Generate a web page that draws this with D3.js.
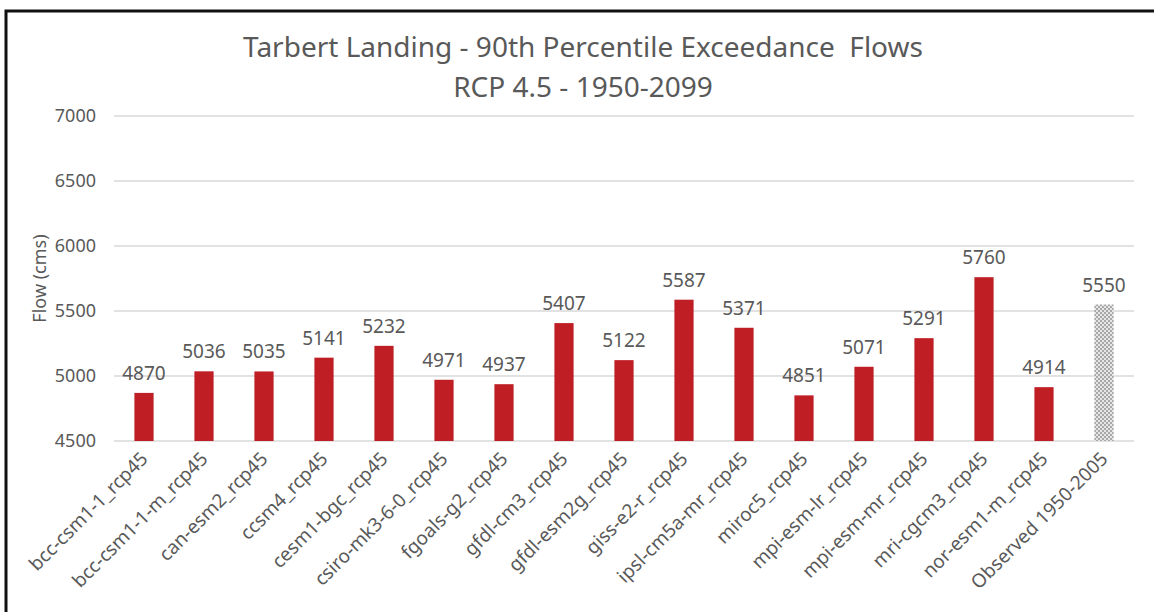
<!DOCTYPE html>
<html>
<head>
<meta charset="utf-8">
<script src="https://cdn.jsdelivr.net/npm/d3@7"></script>
<style>
  body { margin: 0; background: #fff; }
  #chart { width: 1154px; height: 612px; }
  text { font-family: "Noto Sans", "Open Sans", sans-serif; fill: #595959; }
</style>
</head>
<body>
<div id="chart"></div>
<script>
const models = ["bcc-csm1-1_rcp45", "bcc-csm1-1-m_rcp45", "can-esm2_rcp45", "ccsm4_rcp45",
  "cesm1-bgc_rcp45", "csiro-mk3-6-0_rcp45", "fgoals-g2_rcp45", "gfdl-cm3_rcp45",
  "gfdl-esm2g_rcp45", "giss-e2-r_rcp45", "ipsl-cm5a-mr_rcp45", "miroc5_rcp45",
  "mpi-esm-lr_rcp45", "mpi-esm-mr_rcp45", "mri-cgcm3_rcp45", "nor-esm1-m_rcp45",
  "Observed 1950-2005"];
const flows = [4870, 5036, 5035, 5141, 5232, 4971, 4937, 5407, 5122, 5587, 5371,
  4851, 5071, 5291, 5760, 4914, 5550];
const yTicks = [4500, 5000, 5500, 6000, 6500, 7000];
const titleLines = ["Tarbert Landing - 90th Percentile Exceedance  Flows", "RCP 4.5 - 1950-2099"];
const yLabel = "Flow (cms)";

const W = 1154, H = 612;
const margin = {top: 116, left: 114, right: 20, bottom: 171};

const svg = d3.select("#chart").append("svg").attr("width", W).attr("height", H);

// checkered fill for the observed bar
const pat = svg.append("defs").append("pattern")
  .attr("id", "obs").attr("width", 4).attr("height", 4)
  .attr("patternUnits", "userSpaceOnUse");
pat.append("rect").attr("width", 4).attr("height", 4).attr("fill", "#e6e6e6");
pat.append("rect").attr("width", 2).attr("height", 2).attr("fill", "#a8a8a8");
pat.append("rect").attr("x", 2).attr("y", 2).attr("width", 2).attr("height", 2).attr("fill", "#a8a8a8");

// frame (right and bottom run off the picture)
svg.append("rect").attr("x", 6).attr("y", 11).attr("width", W + 10).attr("height", H + 10)
  .attr("fill", "none").attr("stroke", "#111").attr("stroke-width", 3);

const x = d3.scaleBand().domain(models).range([margin.left, W - margin.right]).paddingInner(0.68).paddingOuter(0.34);
const y = d3.scaleLinear().domain([4500, 7000]).range([H - margin.bottom, margin.top]);

// grid
svg.append("g").selectAll("line").data(yTicks).join("line")
  .attr("x1", margin.left).attr("x2", W - margin.right)
  .attr("y1", d => y(d)).attr("y2", d => y(d))
  .attr("stroke", "#d9d9d9").attr("stroke-width", 1.3);

// y tick labels
svg.append("g").selectAll("text").data(yTicks).join("text")
  .attr("x", 96).attr("y", d => y(d)).attr("dy", "0.35em")
  .attr("text-anchor", "end").style("font-size", "18px").text(d => d);

// bars
svg.append("g").selectAll("rect").data(flows).join("rect")
  .attr("x", (d, i) => x(models[i]))
  .attr("width", x.bandwidth())
  .attr("y", d => y(d))
  .attr("height", d => y(4500) - y(d))
  .attr("fill", (d, i) => i === models.length - 1 ? "url(#obs)" : "#be1e24");

// value labels
svg.append("g").selectAll("text").data(flows).join("text")
  .attr("x", (d, i) => x(models[i]) + x.bandwidth() / 2)
  .attr("y", d => y(d) - 13)
  .attr("text-anchor", "middle").style("font-size", "19px").attr("fill", "#404040")
  .text(d => d);

// x labels
svg.append("g").selectAll("text").data(models).join("text")
  .attr("transform", d => `translate(${x(d) + x.bandwidth() / 2 + 5},${y(4500) + 19}) rotate(-45)`)
  .attr("text-anchor", "end").style("font-size", "19px")
  .text(d => d);

// y axis title
svg.append("text")
  .attr("transform", `translate(40,${(y(4500) + y(7000)) / 2}) rotate(-90)`)
  .attr("text-anchor", "middle").attr("dy", "0.35em").style("font-size", "18px")
  .text(yLabel);

// title
svg.append("g").selectAll("text").data(titleLines).join("text")
  .attr("x", 583).attr("y", (d, i) => 57 + i * 40)
  .attr("text-anchor", "middle").style("font-size", "28px").style("white-space", "pre")
  .text(d => d);
</script>
</body>
</html>
